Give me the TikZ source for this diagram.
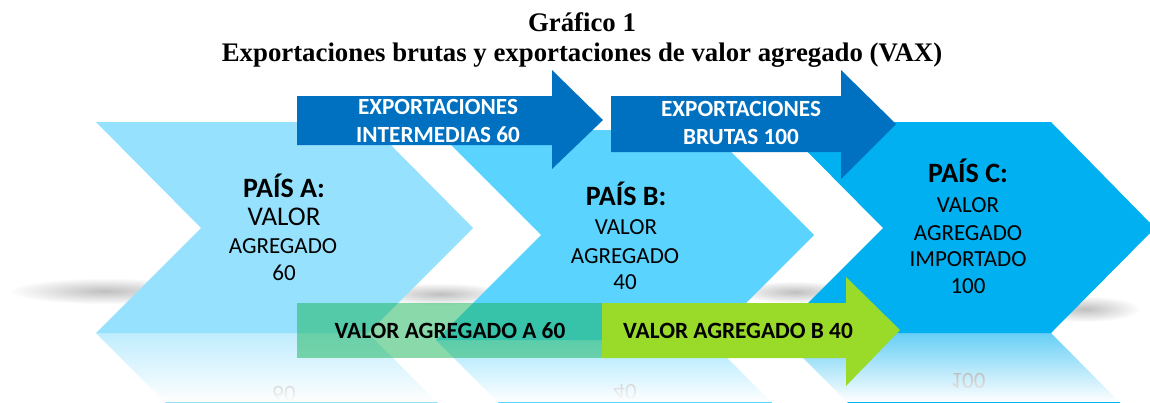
\documentclass[tikz,border=0pt]{standalone}
\usepackage{fontspec}
\setmainfont{Carlito}
\newfontfamily\titlefont{Liberation Serif}
\usetikzlibrary{fadings}
\definecolor{cA}{RGB}{150,225,253}
\definecolor{cB}{RGB}{91,211,255}
\definecolor{cC}{RGB}{0,176,240}
\definecolor{dblue}{RGB}{0,112,192}
\definecolor{vagreen}{RGB}{20,180,86}
\definecolor{lgreen}{RGB}{154,218,41}
\tikzfading[name=reflfade, top color=transparent!60, bottom color=transparent!0]
\tikzfading[name=shadowfade, inner color=transparent!45, outer color=transparent!100]
\begin{document}
\begin{tikzpicture}[x=1pt,y=-1pt,
  title/.style={font=\titlefont\bfseries\fontsize{26.8}{30}\selectfont, anchor=base, inner sep=0pt},
  head/.style={font=\bfseries\fontsize{28}{30}\selectfont, anchor=base, inner sep=0pt},
  body/.style={font=\fontsize{23}{28}\selectfont, anchor=base, inner sep=0pt},
  bigbody/.style={font=\fontsize{27}{30}\selectfont, anchor=base, inner sep=0pt},
  wlbl/.style={font=\bfseries\fontsize{23.2}{26}\selectfont, text=white, anchor=base, inner sep=0pt},
  blbl/.style={font=\bfseries\fontsize{23.3}{26}\selectfont, text=black, anchor=base, inner sep=0pt},
  mirr/.style={font=\fontsize{23}{28}\selectfont, anchor=base, inner sep=0pt, yscale=-1},
  shadowblob/.style={fill=black!45, path fading=shadowfade},
]
\fill[white] (0,0) rectangle (1150,402);
\useasboundingbox (0,0) rectangle (1150,402);

% title
\node[title] (t1) at (582,31) {Gráfico 1};
\node[title] (t2) at (582,61) {Exportaciones brutas y exportaciones de valor agregado (VAX)};

% soft floor shadows
\fill[shadowblob] (105,291) ellipse [x radius=95, y radius=13];
\fill[shadowblob] (440,294) ellipse [x radius=70, y radius=11];
\fill[shadowblob] (795,292) ellipse [x radius=60, y radius=11];
\fill[shadowblob] (1085,309) ellipse [x radius=55, y radius=13];

% reflections
\begin{scope}
  \clip (0,333) rectangle (1150,402);
  \fill[cA] (96,544) -- (368,544) -- (473,438) -- (368,333) -- (96,333) -- (201,438) -- cycle;
  \fill[cB] (436,550) -- (709,550) -- (814,445) -- (709,340) -- (436,340) -- (541,445) -- cycle;
  \fill[cC] (778,544) -- (1051,544) -- (1155,438) -- (1051,333) -- (778,333) -- (883,438) -- cycle;
  \node[mirr] (ra) at (284,386) {60};
  \node[mirr] (rb) at (625,384) {40};
  \node[mirr] (rc) at (968,373) {100};
  \fill[white, path fading=reflfade] (0,333) rectangle (1150,402);
\end{scope}

% chevrons
\fill[cA] (96,122) -- (368,122) -- (473,228) -- (368,333) -- (96,333) -- (201,228) -- cycle;
\fill[cB] (436,130) -- (709,130) -- (814,235) -- (709,340) -- (436,340) -- (541,235) -- cycle;
\fill[cC] (778,122) -- (1051,122) -- (1155,228) -- (1051,333) -- (778,333) -- (883,228) -- cycle;

% chevron texts
\node[head] (a1) at (284,197) {PAÍS A:};
\node[bigbody] (a2) at (284,225) {VALOR};
\node[body] (a3) at (283,253) {AGREGADO};
\node[body] (a4) at (284,280) {60};

\node[head] (b1) at (626,205) {PAÍS B:};
\node[body] (b2) at (626,234) {VALOR};
\node[body] (b3) at (625,263) {AGREGADO};
\node[body] (b4) at (625,289) {40};

\node[head] (c1) at (968,182) {PAÍS C:};
\node[body] (c2) at (968,212) {VALOR};
\node[body] (c3) at (968,240) {AGREGADO};
\node[body] (c4) at (968,266) {IMPORTADO};
\node[body] (c5) at (968,293) {100};

% top arrows
\fill[dblue] (297,96) -- (552,96) -- (552,70) -- (603,120) -- (552,169) -- (552,145) -- (297,145) -- cycle;
\fill[dblue] (611,96) -- (841,96) -- (841,70) -- (896,124) -- (841,179) -- (841,152) -- (611,152) -- cycle;
\node[wlbl] (e1) at (438,114) {EXPORTACIONES};
\node[wlbl] (e2) at (438,142) {INTERMEDIAS 60};
\node[wlbl] (f1) at (741,116) {EXPORTACIONES};
\node[wlbl] (f2) at (741,144) {BRUTAS 100};

% bottom bars
\fill[vagreen, fill opacity=0.5] (297,303) rectangle (602,358);
\fill[lgreen] (602,303) -- (846,303) -- (846,277) -- (900,330) -- (846,386) -- (846,358) -- (602,358) -- cycle;
\node[blbl] (g1) at (450,338) {VALOR AGREGADO A 60};
\node[blbl] (g2) at (738,338) {VALOR AGREGADO B 40};
\end{tikzpicture}
\end{document}
